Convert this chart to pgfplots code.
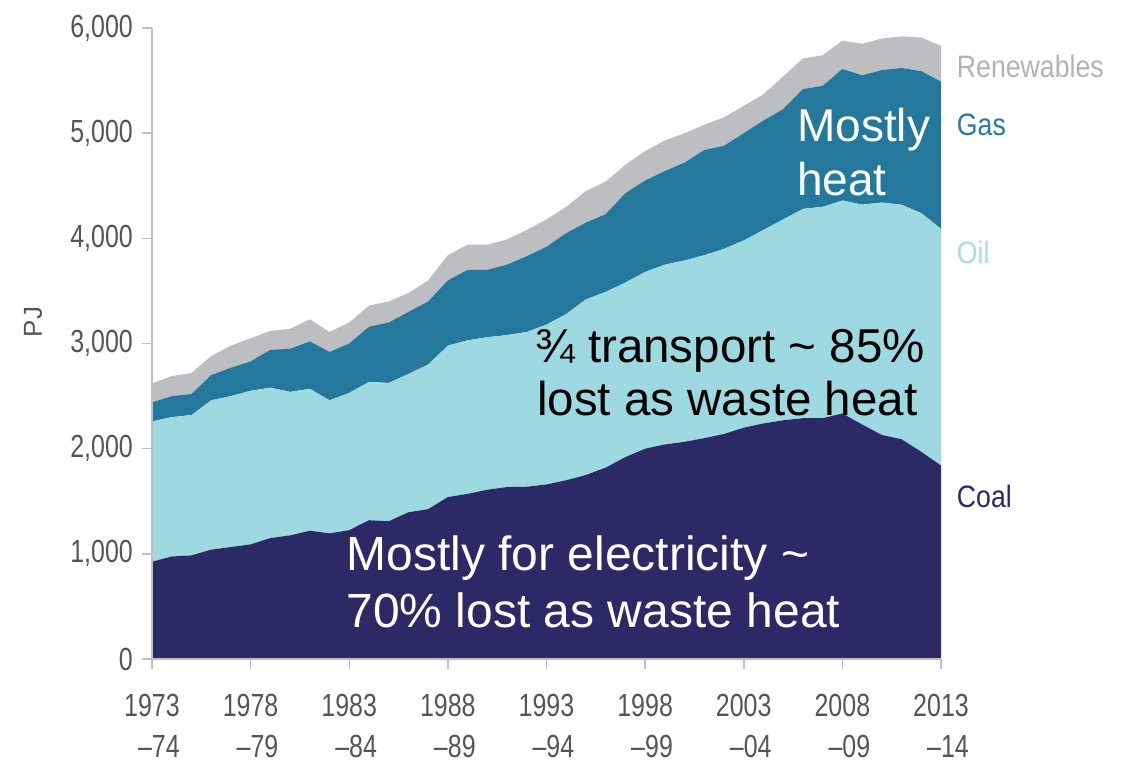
\documentclass[border=0pt]{standalone}
\usepackage{pgfplots}
\pgfplotsset{compat=1.18}
\usepackage{fontspec}
\setmainfont{Liberation Sans}
\newfontfamily\narrowfont[FakeStretch=0.78]{Liberation Sans}
\newfontfamily\labfont[FakeStretch=0.86]{Liberation Sans}
\definecolor{coal}{HTML}{2B2A66}
\definecolor{oil}{HTML}{9ED8E0}
\definecolor{gas}{HTML}{23789B}
\definecolor{ren}{HTML}{BDBEC1}
\definecolor{axgray}{HTML}{BFBFBF}
\definecolor{ticklab}{HTML}{555555}
\definecolor{renlab}{HTML}{B3B3B3}
\definecolor{gaslab}{HTML}{2A7A9C}
\definecolor{oillab}{HTML}{A6DCE6}
\begin{document}
\begin{tikzpicture}[x=1pt,y=1pt]
\useasboundingbox (-152,-107) rectangle (979,659);
\begin{axis}[
  at={(0,0)}, anchor=south west,
  scale only axis, width=789pt, height=631pt,
  xmin=1973, xmax=2013, ymin=0, ymax=6000,
  stack plots=y,
  clip=false,
  axis x line*=bottom, axis y line*=left,
  axis line style={draw=axgray, line width=1.5pt},
  axis on top,
  tick align=outside,
  major tick length=10pt,
  tick style={draw=axgray, line width=1.5pt},
  xtick={1973,1978,...,2013},
  xticklabels={{1973\\–74},{1978\\–79},{1983\\–84},{1988\\–89},{1993\\–94},{1998\\–99},{2003\\–04},{2008\\–09},{2013\\–14}},
  ytick={0,1000,...,6000},
  yticklabels={0,{1,000},{2,000},{3,000},{4,000},{5,000},{6,000}},
  /pgf/number format/assume math mode=true,
  tick label style={font=\narrowfont\fontsize{32}{41}\selectfont, text=ticklab},
  xticklabel style={align=right, inner sep=0pt, yshift=-25pt},
  yticklabel style={inner sep=0pt, xshift=-9pt},
]
\addplot[fill=coal, draw=none] coordinates {
(1973,925) (1974,975) (1975,985) (1976,1040) (1977,1065) (1978,1090) (1979,1150) (1980,1175) (1981,1220) (1982,1195)
(1983,1225) (1984,1320) (1985,1310) (1986,1395) (1987,1425) (1988,1540) (1989,1570) (1990,1610) (1991,1635) (1992,1638)
(1993,1660) (1994,1700) (1995,1750) (1996,1820) (1997,1920) (1998,2000) (1999,2040) (2000,2065) (2001,2100) (2002,2140)
(2003,2200) (2004,2240) (2005,2270) (2006,2290) (2007,2290) (2008,2335) (2009,2230) (2010,2130) (2011,2090) (2012,1970)
(2013,1840)} \closedcycle;
\addplot[fill=oil, draw=none] coordinates {
(1973,1335) (1974,1325) (1975,1335) (1976,1420) (1977,1435) (1978,1460) (1979,1430) (1980,1365) (1981,1350) (1982,1265)
(1983,1305) (1984,1315) (1985,1315) (1986,1315) (1987,1375) (1988,1440) (1989,1460) (1990,1450) (1991,1445) (1992,1472)
(1993,1520) (1994,1580) (1995,1670) (1996,1670) (1997,1660) (1998,1680) (1999,1710) (2000,1725) (2001,1740) (2002,1760)
(2003,1780) (2004,1840) (2005,1910) (2006,1990) (2007,2010) (2008,2025) (2009,2090) (2010,2210) (2011,2230) (2012,2270)
(2013,2250)} \closedcycle;
\addplot[fill=gas, draw=none] coordinates {
(1973,180) (1974,200) (1975,200) (1976,240) (1977,270) (1978,280) (1979,360) (1980,410) (1981,450) (1982,460)
(1983,470) (1984,525) (1985,575) (1986,590) (1987,600) (1988,620) (1989,670) (1990,640) (1991,670) (1992,720)
(1993,740) (1994,770) (1995,730) (1996,740) (1997,850) (1998,870) (1999,890) (2000,930) (2001,1000) (2002,980)
(2003,1020) (2004,1040) (2005,1050) (2006,1140) (2007,1150) (2008,1250) (2009,1230) (2010,1260) (2011,1300) (2012,1350)
(2013,1400)} \closedcycle;
\addplot[fill=ren, draw=none] coordinates {
(1973,180) (1974,190) (1975,200) (1976,180) (1977,210) (1978,220) (1979,180) (1980,190) (1981,210) (1982,190)
(1983,200) (1984,200) (1985,200) (1986,180) (1987,200) (1988,240) (1989,240) (1990,240) (1991,240) (1992,250)
(1993,260) (1994,250) (1995,300) (1996,310) (1997,270) (1998,280) (1999,290) (2000,280) (2001,240) (2002,270)
(2003,260) (2004,250) (2005,310) (2006,290) (2007,290) (2008,270) (2009,300) (2010,300) (2011,300) (2012,320)
(2013,340)} \closedcycle;
\coordinate (a1) at (axis cs:2005.70,4925);
\coordinate (a2) at (axis cs:2005.70,4412);
\coordinate (b1) at (axis cs:1992.42,2824);
\coordinate (b2) at (axis cs:1992.52,2320);
\coordinate (c1) at (axis cs:1982.85,837);
\coordinate (c2) at (axis cs:1982.85,295);
\coordinate (lr) at (axis cs:2013.80,5534);
\coordinate (lg) at (axis cs:2013.80,4982);
\coordinate (lo) at (axis cs:2013.80,3765);
\coordinate (lc) at (axis cs:2013.80,1445);
\coordinate (pj) at (axis cs:1966.97,3204);
\end{axis}
\begin{scope}[every node/.style={anchor=base west, inner sep=0pt}]
\node[text=white, font=\fontsize{46}{55}\selectfont] at (a1) {Mostly};
\node[text=white, font=\fontsize{46}{55}\selectfont] at (a2) {heat};
\node[text=black, font=\fontsize{47.5}{55}\selectfont] at (b1) {¾ transport \char`\~{} 85\%};
\node[text=black, font=\fontsize{47.5}{55}\selectfont] at (b2) {lost as waste heat};
\node[text=white, font=\fontsize{48}{55}\selectfont] at (c1) {Mostly for electricity \char`\~};
\node[text=white, font=\fontsize{48}{55}\selectfont] at (c2) {70\% lost as waste heat};
\node[text=renlab, font=\labfont\fontsize{31}{31}\selectfont] at (lr) {Renewables};
\node[text=gaslab, font=\labfont\fontsize{31}{31}\selectfont] at (lg) {Gas};
\node[text=oillab, font=\labfont\fontsize{31}{31}\selectfont] at (lo) {Oil};
\node[text=coal, font=\labfont\fontsize{31}{31}\selectfont] at (lc) {Coal};
\end{scope}
\node[rotate=90, inner sep=0pt, text=ticklab, font=\fontsize{26}{26}\selectfont] at (pj) {PJ};
\end{tikzpicture}
\end{document}
